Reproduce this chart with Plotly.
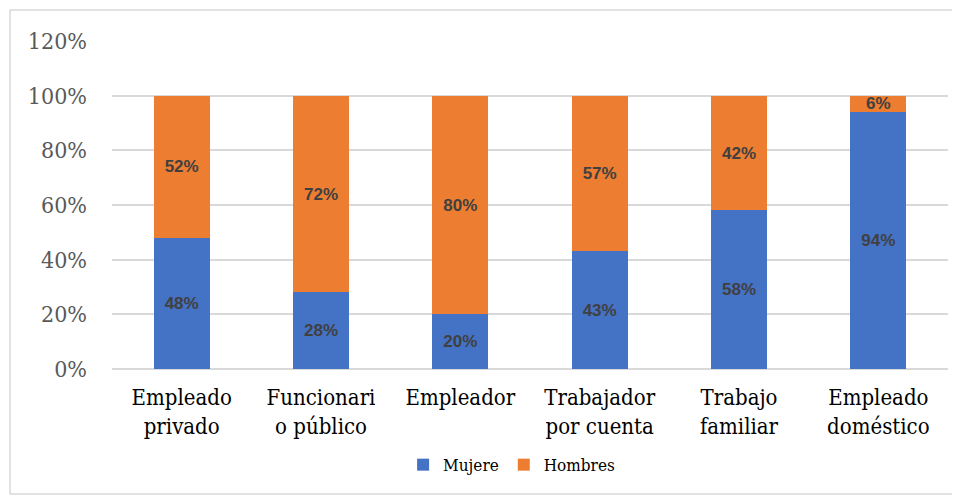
import plotly.graph_objects as go

categories = ["Empleado<br>privado", "Funcionari<br>o público", "Empleador", "Trabajador<br>por cuenta", "Trabajo<br>familiar", "Empleado<br>doméstico"]
mujeres = [48, 28, 20, 43, 58, 94]
hombres = [52, 72, 80, 57, 42, 6]
tick_vals = [0, 20, 40, 60, 80, 100, 120]
tick_text = ["0%", "20%", "40%", "60%", "80%", "100%", "120%"]

# The page body adds an 8px offset; plot area on screen should be x 112..948, y 41..369
OFF = 8
SERIF = "DejaVu Serif Condensed, DejaVu Serif"
label_font = dict(family="Liberation Sans", size=17, color="#404040")

fig = go.Figure()
fig.add_trace(go.Bar(
    x=categories, y=mujeres, name="Mujere",
    marker=dict(color="#4472C4", line=dict(width=0)),
    text=[f"{v}%" for v in mujeres], textposition="inside", insidetextanchor="middle",
    textfont=label_font, texttemplate="<b>%{text}</b>", textangle=0, constraintext="none",
))
fig.add_trace(go.Bar(
    x=categories, y=hombres, name="Hombres",
    marker=dict(color="#ED7D31", line=dict(width=0)),
    text=[f"{v}%" for v in hombres], textposition="inside", insidetextanchor="middle",
    textfont=label_font, texttemplate="<b>%{text}</b>", textangle=0, constraintext="none",
))

fig.update_layout(
    barmode="stack",
    bargap=0.6,
    width=960, height=496,
    font=dict(family=SERIF),
    margin=dict(l=112 - OFF, r=960 - 948 + OFF, t=41 - OFF, b=496 - 369 + OFF, autoexpand=False),
    paper_bgcolor="white", plot_bgcolor="white",
    legend=dict(orientation="h", x=0.478, xanchor="center", y=-0.293, yanchor="middle",
                font=dict(family=SERIF, size=17, color="#000000"),
                itemwidth=30, traceorder="normal"),
    xaxis=dict(showgrid=False, showline=False, ticks="", ticklabelstandoff=13,
               tickfont=dict(family=SERIF, size=22, color="#000000")),
    yaxis=dict(range=[0, 120], tickvals=tick_vals, ticktext=tick_text,
               showgrid=True, gridcolor="#D9D9D9", gridwidth=1.5,
               zeroline=True, zerolinecolor="#D9D9D9", zerolinewidth=1.5,
               showline=False, ticks="", ticklabelstandoff=24,
               tickfont=dict(family=SERIF, size=23, color="#595959")),
    shapes=[dict(type="rect", xref="paper", yref="paper",
                 x0=(10 - 112) / 836, x1=(959 - 112) / 836,
                 y0=(369 - 494) / 328, y1=(369 - 10) / 328,
                 line=dict(color="#D9D9D9", width=1.5), fillcolor="rgba(0,0,0,0)", layer="below")],
)

fig.write_html("out.html")
